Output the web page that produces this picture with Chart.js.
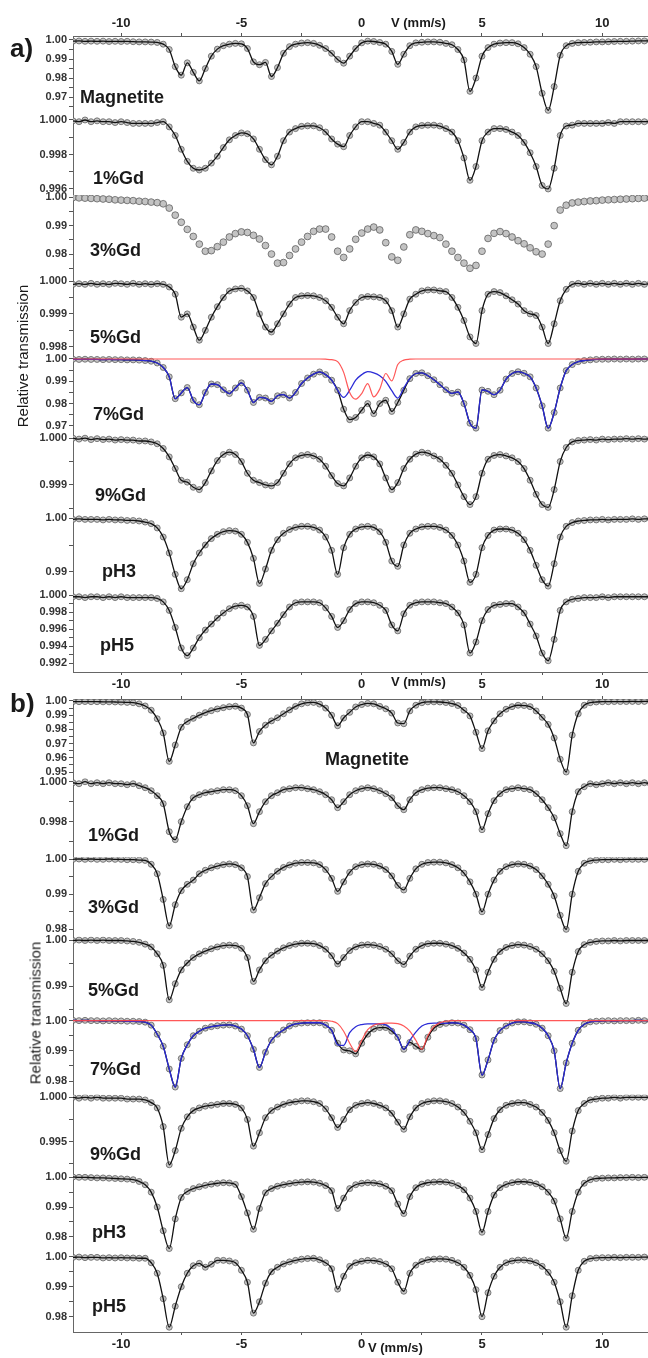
<!DOCTYPE html>
<html>
<head>
<meta charset="utf-8">
<script src="https://cdn.jsdelivr.net/npm/chart.js@4.4.1/dist/chart.umd.min.js"></script>
<style>
  html, body { margin: 0; padding: 0; background: #fff; }
  #page { position: relative; width: 648px; height: 1358px; overflow: hidden; font-family: "Liberation Sans", Arial, sans-serif; }
  canvas { position: absolute; left: 0; }
  .txt { position: absolute; font-weight: bold; color: #1a1a1a; line-height: 1; white-space: nowrap; }
  .ylab { position: absolute; font-size: 15px; color: #1a1a1a; line-height: 1; white-space: nowrap; transform: translate(-50%, -50%) rotate(-90deg); }
</style>
</head>
<body>
<div id="page">
  <canvas id="panelA" width="648" height="696" style="top:0px"></canvas>
  <canvas id="panelB" width="648" height="662" style="top:696px"></canvas>
</div>
<script>
// velocity channels (mm/s)
const velocity = [-12,-11.75,-11.5,-11.25,-11,-10.75,-10.5,-10.25,-10,-9.75,-9.5,-9.25,-9,-8.75,-8.5,-8.25,
  -8,-7.75,-7.5,-7.25,-7,-6.75,-6.5,-6.25,-6,-5.75,-5.5,-5.25,-5,-4.75,-4.5,-4.25,
  -4,-3.75,-3.5,-3.25,-3,-2.75,-2.5,-2.25,-2,-1.75,-1.5,-1.25,-1,-0.75,-0.5,-0.25,
  0,0.25,0.5,0.75,1,1.25,1.5,1.75,2,2.25,2.5,2.75,3,3.25,3.5,3.75,
  4,4.25,4.5,4.75,5,5.25,5.5,5.75,6,6.25,6.5,6.75,7,7.25,7.5,7.75,
  8,8.25,8.5,8.75,9,9.25,9.5,9.75,10,10.25,10.5,10.75,11,11.25,11.5,11.75,12];

const samples = ['Magnetite','1%Gd','3%Gd','5%Gd','7%Gd','9%Gd','pH3','pH5'];

// ---- panel a) relative transmission ----
const magA = [0.9994,0.9995,0.9993,0.9994,0.9993,0.9994,0.9992,0.9993,
  0.9992,0.9993,0.9991,0.9990,0.9990,0.9989,0.9987,0.9978,
  0.9950,0.9860,0.9815,0.9880,0.9830,0.9785,0.9850,0.9915,
  0.9952,0.9970,0.9978,0.9982,0.9980,0.9955,0.9885,0.9870,
  0.9882,0.9808,0.9855,0.9930,0.9965,0.9978,0.9984,0.9986,
  0.9982,0.9972,0.9955,0.9930,0.9898,0.9878,0.9915,0.9955,
  0.9985,0.9994,0.9992,0.9987,0.9978,0.9940,0.9872,0.9925,
  0.9970,0.9985,0.9988,0.9990,0.9990,0.9988,0.9982,0.9975,
  0.9950,0.9895,0.9730,0.9800,0.9915,0.9960,0.9978,0.9984,
  0.9986,0.9986,0.9980,0.9960,0.9925,0.9860,0.9720,0.9630,
  0.9755,0.9920,0.9970,0.9982,0.9986,0.9987,0.9988,0.9990,
  0.9990,0.9991,0.9992,0.9993,0.9993,0.9994,0.9995,0.9995,
  0.9996];
const gd1A = [0.99995,0.9999,1.0000,0.9999,0.99995,0.9999,0.9999,0.99985,
  0.9999,0.99985,0.9998,0.9998,0.9998,0.9998,0.99985,0.9999,
  0.9996,0.9991,0.9983,0.9976,0.9972,0.9971,0.9972,0.9975,
  0.9979,0.9984,0.99885,0.9991,0.99925,0.9992,0.9989,0.9983,
  0.9977,0.9974,0.9979,0.9988,0.9993,0.9995,0.99963,0.99966,
  0.99966,0.99955,0.9993,0.9989,0.9986,0.99845,0.9991,0.9996,
  0.9999,0.9999,0.9998,0.9997,0.9993,0.9988,0.9983,0.9987,
  0.9993,0.9996,0.99968,0.9997,0.9997,0.99965,0.9995,0.9993,
  0.9988,0.9978,0.9965,0.9973,0.9988,0.9993,0.9995,0.9995,
  0.99945,0.9993,0.9991,0.9987,0.9981,0.9973,0.9962,0.9960,
  0.9972,0.9991,0.99965,0.9997,0.9998,0.9998,0.9998,0.9998,
  0.9998,0.99985,0.9998,0.9999,0.9999,0.9999,0.9999,0.9999,
  0.9999];
const gd3A = [0.9999,0.9998,0.9997,0.9996,0.9995,0.9994,0.9993,0.9991,
  0.9990,0.9989,0.9988,0.9986,0.9985,0.9983,0.9981,0.9977,
  0.9962,0.9937,0.9912,0.9887,0.9862,0.9835,0.9810,0.9812,
  0.9826,0.9842,0.9860,0.9872,0.9878,0.9876,0.9866,0.9853,
  0.9830,0.9800,0.9768,0.9770,0.9795,0.9818,0.9842,0.9862,
  0.9880,0.9888,0.9888,0.9860,0.9810,0.9788,0.9818,0.9852,
  0.9874,0.9888,0.9895,0.9885,0.9840,0.9790,0.9778,0.9825,
  0.9868,0.9885,0.9880,0.9872,0.9865,0.9858,0.9835,0.9810,
  0.9788,0.9768,0.9750,0.9760,0.9810,0.9855,0.9873,0.9879,
  0.9872,0.9860,0.9847,0.9836,0.9822,0.9808,0.9800,0.9835,
  0.9900,0.9955,0.9972,0.9980,0.9983,0.9985,0.9987,0.9988,
  0.9990,0.9991,0.9992,0.9993,0.9994,0.9995,0.9996,0.9997,
  0.9997];
const gd5A = [0.9999,0.99992,0.9999,0.99993,0.9999,0.99992,0.9999,0.99993,
  0.99992,0.9999,0.99993,0.9999,0.99992,0.9999,0.99992,0.9999,
  0.99982,0.9996,0.9989,0.9990,0.9986,0.9982,0.9985,0.9989,
  0.99922,0.9995,0.9997,0.99976,0.99978,0.9997,0.9995,0.9990,
  0.9986,0.99845,0.9987,0.9990,0.9993,0.9995,0.99955,0.99956,
  0.99955,0.9995,0.9994,0.9992,0.9989,0.9987,0.9991,0.99935,
  0.9995,0.99953,0.99952,0.9995,0.9994,0.9991,0.9986,0.9990,
  0.99945,0.9996,0.9997,0.99973,0.99973,0.9997,0.99968,0.9995,
  0.9992,0.9988,0.9983,0.9981,0.9991,0.9996,0.99968,0.99965,
  0.99955,0.99943,0.9993,0.9991,0.9990,0.99895,0.9986,0.9981,
  0.9987,0.9994,0.99975,0.9999,0.99993,0.9999,0.99993,0.9999,
  0.99993,0.9999,0.99993,0.9999,0.99993,0.9999,0.99993,0.9999,
  0.99993];
const gd7A = [0.9999,0.9998,0.9999,0.9998,0.9998,0.9997,0.9998,0.9997,
  0.9997,0.9996,0.9996,0.9995,0.9993,0.9990,0.9982,0.9962,
  0.9920,0.9822,0.9848,0.9872,0.9815,0.9795,0.9850,0.9888,
  0.9885,0.9862,0.9845,0.9870,0.9893,0.9860,0.9805,0.9828,
  0.9825,0.9810,0.9835,0.9840,0.9825,0.9850,0.9890,0.9915,
  0.9932,0.9942,0.9930,0.9905,0.9860,0.9775,0.9728,0.9738,
  0.9770,0.9800,0.9755,0.9800,0.9815,0.9765,0.9805,0.9860,
  0.9912,0.9935,0.9938,0.9925,0.9907,0.9885,0.9862,0.9846,
  0.9852,0.9800,0.9712,0.9690,0.9861,0.9855,0.9840,0.9860,
  0.9910,0.9935,0.9943,0.9936,0.9920,0.9870,0.9790,0.9690,
  0.9760,0.9870,0.9948,0.9975,0.9988,0.9993,0.9996,0.9998,
  0.9999,0.9999,1.0000,0.9999,1.0000,0.9999,1.0000,1.0000,
  1.0000];
const gd7BlueA = [0.9999,0.9998,0.9999,0.9998,0.9998,0.9997,0.9998,0.9997,
  0.9997,0.9996,0.9996,0.9995,0.9993,0.9990,0.9982,0.9962,
  0.9920,0.9822,0.9848,0.9872,0.9815,0.9795,0.9850,0.9888,
  0.9885,0.9862,0.9845,0.9870,0.9893,0.9860,0.9805,0.9828,
  0.9825,0.9810,0.9835,0.9840,0.9825,0.9850,0.9890,0.9915,
  0.9932,0.9942,0.9930,0.9905,0.9860,0.9828,0.9860,0.9905,
  0.9930,0.9943,0.9938,0.9925,0.9900,0.9858,0.9825,0.9870,
  0.9912,0.9935,0.9938,0.9925,0.9907,0.9885,0.9862,0.9846,
  0.9852,0.9800,0.9712,0.9690,0.9861,0.9855,0.9840,0.9860,
  0.9910,0.9935,0.9943,0.9936,0.9920,0.9870,0.9790,0.9690,
  0.9760,0.9870,0.9948,0.9975,0.9988,0.9993,0.9996,0.9998,
  0.9999,0.9999,1.0000,0.9999,1.0000,0.9999,1.0000,1.0000,
  1.0000];
const gd7RedA = [1,1,1,1,1,1,1,1,
  1,1,1,1,1,1,1,1,
  1,1,1,1,1,1,1,1,
  1,1,1,1,1,1,1,1,
  1,1,1,1,1,1,1,1,
  1,1,0.9999,0.9997,0.9988,0.9940,0.9850,0.9820,
  0.9845,0.9890,0.9830,0.9865,0.9935,0.9902,0.9975,0.9995,
  0.9999,1,1,1,1,1,1,1,
  1,1,1,1,1,1,1,1,
  1,1,1,1,1,1,1,1,
  1,1,1,1,1,1,1,1,
  1,1,1,1,1,1,1,1,
  1];
const gd9A = [1.0000,0.99998,1.0000,0.99997,0.99999,0.99997,0.99998,0.99996,
  0.99997,0.99996,0.99996,0.99994,0.99994,0.99992,0.99988,0.99978,
  0.99960,0.99935,0.99910,0.99906,0.99895,0.99890,0.99905,0.99930,
  0.99952,0.99965,0.99970,0.99965,0.99950,0.99925,0.99910,0.99905,
  0.99900,0.99898,0.99905,0.99925,0.99945,0.99958,0.99963,0.99965,
  0.99962,0.99955,0.99940,0.99920,0.99903,0.99898,0.99915,0.99940,
  0.99958,0.99964,0.99960,0.99945,0.99915,0.99890,0.99905,0.99935,
  0.99955,0.99966,0.99970,0.99968,0.99962,0.99955,0.99942,0.99925,
  0.99900,0.99875,0.99858,0.99875,0.99925,0.99955,0.99963,0.99965,
  0.99962,0.99958,0.99950,0.99935,0.99910,0.99880,0.99858,0.99852,
  0.99890,0.99950,0.99980,0.99992,0.99995,0.99996,0.99997,0.99996,
  0.99998,0.99997,0.99998,0.99998,0.99999,0.99998,0.99999,0.99998,
  0.99999];
const ph3A = [0.9998,0.9999,0.9998,0.9998,0.9998,0.9997,0.9998,0.9997,
  0.9997,0.9996,0.9996,0.9995,0.9993,0.9990,0.9982,0.9965,
  0.9935,0.9895,0.9868,0.9885,0.9915,0.9935,0.9950,0.9962,
  0.9970,0.9975,0.9977,0.9976,0.9970,0.9955,0.9925,0.9878,
  0.9905,0.9940,0.9960,0.9972,0.9979,0.9983,0.9985,0.9985,
  0.9983,0.9978,0.9965,0.9940,0.9895,0.9945,0.9970,0.9980,
  0.9984,0.9985,0.9983,0.9975,0.9955,0.9920,0.9910,0.9950,
  0.9972,0.9980,0.9984,0.9985,0.9985,0.9983,0.9978,0.9968,
  0.9950,0.9920,0.9880,0.9895,0.9945,0.9968,0.9978,0.9980,
  0.9980,0.9978,0.9972,0.9960,0.9940,0.9912,0.9885,0.9873,
  0.9915,0.9965,0.9985,0.9992,0.9995,0.9996,0.9997,0.9997,
  0.9998,0.9997,0.9998,0.9998,0.9998,0.9999,0.9998,0.9999,
  0.9999];
const ph5A = [0.9998,0.9998,0.9997,0.9998,0.9998,0.9997,0.9998,0.9997,
  0.9998,0.9997,0.9997,0.9997,0.9997,0.9997,0.9996,0.9992,
  0.9982,0.9962,0.9938,0.9929,0.9938,0.9950,0.9959,0.9966,
  0.9973,0.9979,0.9984,0.9987,0.9988,0.9986,0.9975,0.9941,
  0.9948,0.9958,0.9967,0.9977,0.9986,0.9991,0.9992,0.9992,
  0.9992,0.9991,0.9985,0.9975,0.9962,0.9970,0.9983,0.9990,
  0.9992,0.9992,0.9991,0.9988,0.9982,0.9965,0.9958,0.9978,
  0.9988,0.9991,0.9992,0.9992,0.9992,0.9991,0.9990,0.9986,
  0.9979,0.9965,0.9932,0.9945,0.9970,0.9983,0.9988,0.9989,
  0.9990,0.9990,0.9986,0.9979,0.9966,0.9952,0.9932,0.9923,
  0.9948,0.9982,0.9992,0.9995,0.9996,0.9997,0.9997,0.9997,
  0.9998,0.9997,0.9998,0.9998,0.9998,0.9998,0.9998,0.9998,
  0.9998];

// ---- panel b) relative transmission ----
const magB = [0.9996,0.9995,0.9996,0.9995,0.9995,0.9994,0.9994,0.9993,
  0.9992,0.9990,0.9988,0.9980,0.9965,0.9935,0.9875,0.9775,
  0.9575,0.9690,0.9815,0.9855,0.9878,0.9900,0.9918,0.9932,
  0.9944,0.9953,0.9960,0.9963,0.9950,0.9905,0.9705,0.9785,
  0.9830,0.9860,0.9882,0.9910,0.9937,0.9962,0.9980,0.9988,
  0.9990,0.9978,0.9950,0.9900,0.9826,0.9880,0.9920,0.9958,
  0.9975,0.9983,0.9980,0.9962,0.9945,0.9915,0.9845,0.9840,
  0.9930,0.9970,0.9988,0.9994,0.9994,0.9993,0.9989,0.9982,
  0.9968,0.9935,0.9895,0.9780,0.9665,0.9790,0.9860,0.9910,
  0.9942,0.9960,0.9970,0.9968,0.9960,0.9930,0.9885,0.9835,
  0.9740,0.9590,0.9500,0.9760,0.9910,0.9970,0.9988,0.9993,
  0.9995,0.9995,0.9996,0.9996,0.9996,0.9997,0.9996,0.9997,
  0.9997];
const gd1B = [0.99995,0.9999,1.0000,0.9999,0.99995,0.9999,0.99995,0.9999,
  0.9999,0.99985,0.9999,0.9998,0.9997,0.99955,0.9993,0.9989,
  0.9975,0.9971,0.9980,0.99875,0.9992,0.99935,0.99945,0.9995,
  0.99955,0.9996,0.9996,0.99955,0.9993,0.9988,0.9979,0.9985,
  0.9990,0.9993,0.99945,0.9996,0.99965,0.9997,0.9997,0.99965,
  0.9996,0.9995,0.99935,0.9991,0.9987,0.9990,0.99935,0.99955,
  0.99965,0.9997,0.99965,0.99955,0.9994,0.9992,0.9988,0.9986,
  0.9991,0.99945,0.9996,0.99968,0.9997,0.9997,0.99965,0.9996,
  0.9995,0.9993,0.9990,0.9985,0.9976,0.9984,0.99905,0.9994,
  0.9996,0.99965,0.9997,0.99965,0.9996,0.9994,0.9991,0.9987,
  0.9982,0.9974,0.9968,0.9985,0.9995,0.99975,0.9999,0.99985,
  0.9999,0.99995,0.9999,0.99995,0.9999,0.99995,0.9999,0.99995,
  0.9999];
const gd3B = [0.9999,1.0000,0.9999,1.0000,0.9999,0.9999,1.0000,0.9999,
  0.9999,0.9998,0.9998,0.9997,0.9996,0.9985,0.9958,0.9885,
  0.9810,0.9870,0.9910,0.9928,0.9940,0.9958,0.9968,0.9975,
  0.9980,0.9984,0.9986,0.9984,0.9975,0.9950,0.9855,0.9890,
  0.9930,0.9950,0.9965,0.9976,0.9983,0.9988,0.9990,0.9990,
  0.9989,0.9984,0.9970,0.9945,0.9908,0.9935,0.9962,0.9978,
  0.9984,0.9986,0.9985,0.9980,0.9970,0.9952,0.9925,0.9912,
  0.9945,0.9972,0.9985,0.9990,0.9991,0.9991,0.9989,0.9984,
  0.9975,0.9960,0.9935,0.9900,0.9850,0.9900,0.9940,0.9965,
  0.9978,0.9984,0.9986,0.9985,0.9980,0.9970,0.9952,0.9928,
  0.9895,0.9840,0.9800,0.9900,0.9965,0.9988,0.9995,0.9997,
  0.9998,0.9998,0.9999,0.9998,0.9999,0.9999,0.9999,0.9999,
  0.9999];
const gd5B = [0.9999,1.0000,0.9999,1.0000,0.9999,1.0000,0.9999,0.9999,
  0.9999,0.9998,0.9997,0.9995,0.9991,0.9985,0.9970,0.9945,
  0.9870,0.9905,0.9935,0.9950,0.9962,0.9970,0.9976,0.9981,
  0.9985,0.9988,0.9989,0.9988,0.9982,0.9962,0.9910,0.9935,
  0.9955,0.9967,0.9976,0.9983,0.9988,0.9991,0.9993,0.9993,
  0.9992,0.9988,0.9980,0.9966,0.9948,0.9962,0.9977,0.9985,
  0.9989,0.9990,0.9989,0.9986,0.9980,0.9970,0.9955,0.9947,
  0.9965,0.9980,0.9988,0.9992,0.9993,0.9993,0.9991,0.9988,
  0.9982,0.9972,0.9958,0.9935,0.9897,0.9930,0.9958,0.9975,
  0.9984,0.9988,0.9990,0.9989,0.9986,0.9980,0.9970,0.9955,
  0.9932,0.9895,0.9862,0.9930,0.9975,0.9990,0.9995,0.9997,
  0.9998,0.9998,0.9999,0.9998,0.9999,0.9999,0.9999,0.9999,
  0.9999];
const gd7B = [1.0001,1.0000,1.0001,1.0000,1.0000,0.9999,1.0000,0.9999,
  0.9999,0.9998,0.9998,0.9997,0.9995,0.9985,0.9955,0.9915,
  0.9840,0.9780,0.9875,0.9920,0.9950,0.9965,0.9975,0.9980,
  0.9983,0.9985,0.9986,0.9982,0.9972,0.9950,0.9905,0.9845,
  0.9895,0.9935,0.9955,0.9969,0.9982,0.9989,0.9992,0.9993,
  0.9993,0.9993,0.9985,0.9968,0.9925,0.9903,0.9900,0.9890,
  0.9925,0.9955,0.9972,0.9977,0.9977,0.9965,0.9945,0.9905,
  0.9928,0.9915,0.9905,0.9945,0.9975,0.9987,0.9991,0.9993,
  0.9992,0.9985,0.9970,0.9940,0.9820,0.9870,0.9935,0.9967,
  0.9982,0.9992,0.9996,0.9996,0.9993,0.9988,0.9975,0.9950,
  0.9900,0.9775,0.9860,0.9925,0.9968,0.9988,0.9996,0.9998,
  0.9999,1.0000,0.9999,1.0000,1.0000,1.0000,1.0001,1.0000,
  1.0000];
const gd7BlueB = [1.0001,1.0000,1.0001,1.0000,1.0000,0.9999,1.0000,0.9999,
  0.9999,0.9998,0.9998,0.9997,0.9995,0.9985,0.9955,0.9915,
  0.9840,0.9780,0.9875,0.9920,0.9950,0.9965,0.9975,0.9980,
  0.9983,0.9985,0.9986,0.9982,0.9972,0.9950,0.9905,0.9845,
  0.9895,0.9935,0.9955,0.9969,0.9982,0.9989,0.9992,0.9993,
  0.9993,0.9993,0.9985,0.9968,0.9920,0.9918,0.9960,0.9980,
  0.9987,0.9989,0.9989,0.9989,0.9986,0.9972,0.9945,0.9905,
  0.9935,0.9962,0.9982,0.9990,0.9992,0.9992,0.9991,0.9993,
  0.9992,0.9985,0.9970,0.9940,0.9820,0.9870,0.9935,0.9967,
  0.9982,0.9992,0.9996,0.9996,0.9993,0.9988,0.9975,0.9950,
  0.9900,0.9775,0.9860,0.9925,0.9968,0.9988,0.9996,0.9998,
  0.9999,1.0000,0.9999,1.0000,1.0000,1.0000,1.0001,1.0000,
  1.0000];
const gd7RedB = [1,1,1,1,1,1,1,1,
  1,1,1,1,1,1,1,1,
  1,1,1,1,1,1,1,1,
  1,1,1,1,1,1,1,1,
  1,1,1,1,1,1,1,1,
  1,1,1,0.9998,0.9990,0.9965,0.9925,0.9898,
  0.9935,0.9970,0.9985,0.9990,0.9992,0.9992,0.9990,0.9982,
  0.9965,0.9935,0.9905,0.9950,0.9980,0.9993,0.9998,1,
  1,1,1,1,1,1,1,1,
  1,1,1,1,1,1,1,1,
  1,1,1,1,1,1,1,1,
  1,1,1,1,1,1,1,1,
  1];
const gd9B = [1.0000,0.9999,1.0000,0.9999,1.0000,0.9999,0.9999,0.9999,
  0.9999,0.9998,0.9998,0.9998,0.9997,0.9994,0.9988,0.9967,
  0.9924,0.9940,0.9965,0.9978,0.9985,0.9988,0.9990,0.9991,
  0.9992,0.9993,0.9993,0.9992,0.9988,0.9975,0.9945,0.9960,
  0.9977,0.9985,0.9989,0.9992,0.9994,0.9995,0.9996,0.9996,
  0.9995,0.9993,0.9987,0.9977,0.9966,0.9975,0.9986,0.9991,
  0.9993,0.9994,0.9993,0.9991,0.9988,0.9982,0.9972,0.9964,
  0.9978,0.9988,0.9993,0.9995,0.9996,0.9996,0.9995,0.9993,
  0.9989,0.9983,0.9973,0.9960,0.9941,0.9958,0.9976,0.9986,
  0.9991,0.9993,0.9994,0.9994,0.9992,0.9989,0.9983,0.9974,
  0.9960,0.9940,0.9928,0.9962,0.9985,0.9993,0.9997,0.9998,
  0.9999,0.9999,1.0000,0.9999,1.0000,1.0000,1.0000,1.0000,
  1.0000];
const ph3B = [1.0001,1.0000,1.0000,0.9999,0.9998,0.9998,0.9997,0.9996,
  0.9995,0.9994,0.9992,0.9986,0.9975,0.9950,0.9900,0.9820,
  0.9760,0.9860,0.9932,0.9952,0.9962,0.9968,0.9973,0.9977,
  0.9980,0.9982,0.9981,0.9976,0.9935,0.9880,0.9825,0.9895,
  0.9948,0.9962,0.9970,0.9975,0.9979,0.9982,0.9984,0.9985,
  0.9984,0.9980,0.9972,0.9955,0.9895,0.9930,0.9962,0.9975,
  0.9980,0.9982,0.9981,0.9978,0.9970,0.9955,0.9910,0.9878,
  0.9935,0.9965,0.9977,0.9982,0.9984,0.9985,0.9984,0.9980,
  0.9972,0.9958,0.9930,0.9885,0.9815,0.9885,0.9940,0.9965,
  0.9976,0.9982,0.9985,0.9985,0.9983,0.9978,0.9968,0.9950,
  0.9920,0.9860,0.9795,0.9885,0.9950,0.9980,0.9992,0.9996,
  0.9997,0.9998,0.9998,0.9999,0.9999,1.0000,0.9999,1.0000,
  1.0000];
const ph5B = [0.9998,0.9999,0.9997,0.9998,0.9998,0.9996,0.9997,0.9996,
  0.9997,0.9996,0.9996,0.9995,0.9995,0.9980,0.9945,0.9860,
  0.9765,0.9835,0.9900,0.9945,0.9970,0.9978,0.9965,0.9975,
  0.9988,0.9988,0.9986,0.9980,0.9955,0.9915,0.9812,0.9850,
  0.9912,0.9950,0.9965,0.9976,0.9983,0.9988,0.9992,0.9994,
  0.9995,0.9990,0.9980,0.9960,0.9892,0.9935,0.9968,0.9980,
  0.9985,0.9988,0.9987,0.9984,0.9976,0.9960,0.9915,0.9885,
  0.9945,0.9972,0.9984,0.9990,0.9992,0.9993,0.9992,0.9988,
  0.9980,0.9965,0.9938,0.9890,0.9800,0.9880,0.9935,0.9965,
  0.9980,0.9986,0.9989,0.9989,0.9986,0.9980,0.9968,0.9948,
  0.9915,0.9850,0.9765,0.9870,0.9955,0.9985,0.9994,0.9996,
  0.9997,0.9997,0.9998,0.9997,0.9998,0.9998,0.9998,0.9999,
  0.9998];

// y tick labels and axis ranges of each row
const ticksA = [['1.00','0.99','0.98','0.97'],['1.000','0.998','0.996'],['1.00','0.99','0.98'],['1.000','0.999','0.998'],
  ['1.00','0.99','0.98','0.97'],['1.000','0.999'],['1.00','0.99'],['1.000','0.998','0.996','0.994','0.992']];
const ticksB = [['1.00','0.99','0.98','0.97','0.96','0.95'],['1.000','0.998'],['1.00','0.99','0.98'],['1.00','0.99'],
  ['1.00','0.99','0.98'],['1.000','0.995'],['1.00','0.99','0.98'],['1.00','0.99','0.98']];
const rangesA = [[0.9603,1.0021],[0.99565,1.00026],[0.9728,1.0008],[0.99778,1.0002],[0.9666,1.00224],[0.9984,1.0001],[0.9861,1.001],[0.99098,1.0003]];
const rangesB = [[0.9457,1.0014],[0.99622,1.00018],[0.978,1.0005],[0.98359,1.0008],[0.9755,1.0017],[0.99139,1.0003],[0.97455,1.0012],[0.9749,1.0013]];

const xTicks = [-10,-7.5,-5,-2.5,0,2.5,5,7.5,10];
const xTickLabels = ['-10','-5','0','5','10'];

const FONT = '"Liberation Sans", Arial, sans-serif';

function tickList(labels, range) {
  const vals = labels.map(Number);
  const step = vals.length > 1 ? vals[0] - vals[1] : 0.01;
  const pad = (range[1] - range[0]) * 0.03;
  const list = [];
  if (vals[0] + step / 2 <= range[1] - pad) list.push({value: vals[0] + step / 2, label: ''});
  vals.forEach((v, i) => {
    list.push({value: v, label: labels[i]});
    const m = v - step / 2;
    if (i < vals.length - 1 || m >= range[0] + pad) list.push({value: m, label: ''});
  });
  return list.sort((a, b) => a.value - b.value);
}

function yScale(labels, range) {
  const list = tickList(labels, range);
  return {
    type: 'linear', axis: 'y', position: 'left', stack: 'rows', stackWeight: 1,
    min: range[0], max: range[1],
    afterBuildTicks: s => { s.ticks = list.map(t => ({value: t.value})); },
    afterFit: s => { s.width = 73; s.paddingTop = 0; s.paddingBottom = 0; },
    ticks: { autoSkip: false, padding: 2, color: '#333', font: {family: FONT, size: 11, weight: 'bold'},
      callback: (v, i) => list[i] ? list[i].label : '' },
    grid: { drawOnChartArea: false, tickLength: 4, color: '#555' },
    border: { display: true, color: '#666', width: 1 }
  };
}

function xScale(pos, showLabels, height) {
  return {
    type: 'linear', axis: 'x', position: pos, min: -12, max: 11.9,
    afterBuildTicks: s => { s.ticks = xTicks.map(v => ({value: v})); },
    afterFit: s => { s.height = height; s.paddingLeft = 0; s.paddingRight = 0; },
    ticks: { display: showLabels, autoSkip: false, maxRotation: 0, padding: 2, color: '#222',
      font: {family: FONT, size: 13, weight: 'bold'},
      callback: v => xTickLabels.includes(String(v)) ? String(v) : '' },
    grid: { drawOnChartArea: false, tickLength: 3, color: '#555' },
    border: { display: true, color: '#666', width: 1 }
  };
}

function pts(vals) { return velocity.map((v, i) => ({x: v, y: vals[i]})); }

function buildPanel(id, series, ticks, ranges, noFit, blue, red, topLabels, topH, bottomH) {
  const datasets = [];
  series.forEach((vals, i) => {
    const yId = 'y' + (i + 1);
    datasets.push({
      label: samples[i] + ' data', data: pts(vals), yAxisID: yId, showLine: false,
      pointRadius: noFit === i ? 3.4 : 3, pointBackgroundColor: 'rgba(185,185,185,0.85)',
      pointBorderColor: 'rgba(85,85,85,0.8)', pointBorderWidth: 0.9, order: 4
    });
    if (noFit !== i) {
      datasets.push({
        label: samples[i] + ' fit', data: pts(vals), yAxisID: yId, borderColor: '#111', borderWidth: 1.3,
        pointRadius: 0, fill: false, cubicInterpolationMode: 'monotone', order: 3
      });
    }
  });
  datasets.push({ label: '7%Gd sextet', data: pts(blue), yAxisID: 'y5', borderColor: '#2b2bd6', borderWidth: 1.3,
    pointRadius: 0, fill: false, cubicInterpolationMode: 'monotone', order: 2 });
  datasets.push({ label: '7%Gd doublet', data: pts(red), yAxisID: 'y5', borderColor: 'rgba(255,70,70,0.9)', borderWidth: 1.2,
    pointRadius: 0, fill: false, cubicInterpolationMode: 'monotone', order: 1 });

  const scales = { x: xScale('top', topLabels, topH), x2: xScale('bottom', true, bottomH) };
  for (let i = 7; i >= 0; i--) scales['y' + (i + 1)] = yScale(ticks[i], ranges[i]);

  new Chart(document.getElementById(id), {
    type: 'line',
    data: { datasets },
    options: {
      responsive: false, animation: false, events: [],
      layout: { padding: 0, autoPadding: false },
      plugins: { legend: { display: false }, tooltip: { enabled: false } },
      scales
    }
  });
}

buildPanel('panelA', [magA, gd1A, gd3A, gd5A, gd7A, gd9A, ph3A, ph5A], ticksA, rangesA, 2, gd7BlueA, gd7RedA, true, 36, 24);
buildPanel('panelB', [magB, gd1B, gd3B, gd5B, gd7B, gd9B, ph3B, ph5B], ticksB, rangesB, -1, gd7BlueB, gd7RedB, false, 3, 26);

// text labels
const page = document.getElementById('page');
function addText(text, x, baseline, size) {
  const d = document.createElement('div');
  d.className = 'txt';
  d.style.fontSize = size + 'px';
  d.style.left = x + 'px';
  d.style.top = (baseline - 0.846 * size) + 'px';
  d.textContent = text;
  page.appendChild(d);
}
function addYTitle(text, cx, cy) {
  const d = document.createElement('div');
  d.className = 'ylab';
  d.style.left = cx + 'px';
  d.style.top = cy + 'px';
  d.textContent = text;
  page.appendChild(d);
}
const namePosA = [[80,103],[93,184],[90,256],[90,343],[93,420],[95,501],[102,577],[100,651]];
const namePosB = [[325,765],[88,841],[88,913],[88,996],[90,1075],[90,1160],[92,1238],[92,1312]];
samples.forEach((s, i) => {
  addText(s, namePosA[i][0], namePosA[i][1], 18);
  addText(s, namePosB[i][0], namePosB[i][1], 18);
});
addText('a)', 10, 57, 26);
addText('b)', 10, 712, 26);
addText('V (mm/s)', 391, 27, 13);
addText('V (mm/s)', 391, 686, 13);
addText('V (mm/s)', 368, 1352, 13);
addYTitle('Relative transmission', 22, 356);
addYTitle('Relative transmission', 35, 1013);
</script>
</body>
</html>
